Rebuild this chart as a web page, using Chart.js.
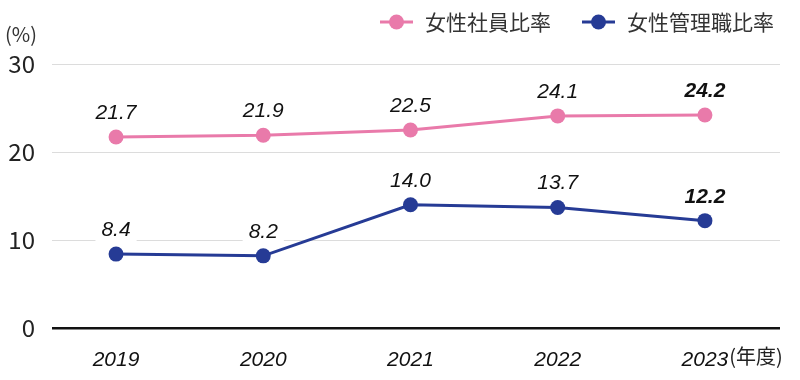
<!DOCTYPE html>
<html>
<head>
<meta charset="utf-8">
<script src="https://cdn.jsdelivr.net/npm/chart.js@4"></script>
<style>
html,body{margin:0;padding:0;background:#fff;}
#wrap{width:800px;height:380px;position:relative;}
</style>
</head>
<body>
<div id="wrap"><canvas id="c" width="800" height="380"></canvas></div>
<script>
const years = ['2019', '2020', '2021', '2022', '2023'];
const femaleEmployeeRatio = [21.7, 21.9, 22.5, 24.1, 24.2];
const femaleManagerRatio = [8.4, 8.2, 14.0, 13.7, 12.2];
const yTicks = [0, 10, 20, 30];
const seriesNames = ['女性社員比率', '女性管理職比率'];

const PINK = '#e97aaa';
const BLUE = '#263b95';
const NUM_FONT = '"Liberation Sans", Arial, sans-serif';
const JP_FONT = '"Noto Sans CJK JP", "Noto Sans", sans-serif';

function toPoints(arr){ return arr.map((v,i)=>({x:i, y:v})); }

const labelPlugin = {
  id: 'labels',
  afterDatasetsDraw(chart){
    const ctx = chart.ctx;
    chart.data.datasets.forEach((ds, di)=>{
      const meta = chart.getDatasetMeta(di);
      meta.data.forEach((pt, i)=>{
        const last = i === ds.data.length - 1;
        const txt = ds.data[i].y.toFixed(1);
        ctx.save();
        ctx.font = (last ? 'italic bold ' : 'italic ') + '21px ' + NUM_FONT;
        const w = ctx.measureText(txt).width;
        const by = pt.y - 18;
        ctx.fillStyle = '#fff';
        ctx.fillRect(pt.x - w/2 - 6, by - 17, w + 12, 25);
        ctx.fillStyle = '#111';
        ctx.textAlign = 'center';
        ctx.textBaseline = 'alphabetic';
        ctx.fillText(txt, pt.x, by);
        ctx.restore();
      });
    });
  },
  afterDraw(chart){
    const ctx = chart.ctx;
    ctx.save();
    // unit label
    ctx.font = '20px ' + JP_FONT;
    ctx.fillStyle = '#333';
    ctx.textBaseline = 'middle';
    ctx.textAlign = 'left';
    ctx.fillText('(%)', 5, 34);
    // year unit after last x tick
    const xs = chart.scales.x;
    const lx = xs.getPixelForValue(years.length - 1);
    ctx.font = 'italic 21px ' + NUM_FONT;
    const lw = ctx.measureText(years[years.length-1]).width;
    ctx.font = '20px ' + JP_FONT;
    ctx.fillStyle = '#222';
    ctx.fillText('(年度)', lx + lw/2 + 1, 356);
    // legend
    const items = [
      {x: 380, color: PINK, text: seriesNames[0]},
      {x: 582, color: BLUE, text: seriesNames[1]}
    ];
    items.forEach(it=>{
      const cy = 22;
      ctx.strokeStyle = it.color;
      ctx.lineWidth = 3;
      ctx.beginPath();
      ctx.moveTo(it.x, cy); ctx.lineTo(it.x + 33, cy);
      ctx.stroke();
      ctx.fillStyle = it.color;
      ctx.beginPath();
      ctx.arc(it.x + 16.5, cy, 7.5, 0, Math.PI*2);
      ctx.fill();
      ctx.fillStyle = '#333';
      ctx.font = '21px ' + JP_FONT;
      ctx.textBaseline = 'middle';
      ctx.fillText(it.text, it.x + 45, cy);
    });
    ctx.restore();
  }
};

new Chart(document.getElementById('c'), {
  type: 'line',
  data: {
    datasets: [
      {label: seriesNames[0], data: toPoints(femaleEmployeeRatio), borderColor: PINK, backgroundColor: PINK,
       borderWidth: 3, pointRadius: 7.5, pointHoverRadius: 7.5, pointBorderWidth: 0, tension: 0},
      {label: seriesNames[1], data: toPoints(femaleManagerRatio), borderColor: BLUE, backgroundColor: BLUE,
       borderWidth: 3, pointRadius: 7.5, pointHoverRadius: 7.5, pointBorderWidth: 0, tension: 0}
    ]
  },
  options: {
    responsive: false,
    animation: false,
    events: [],
    layout: {padding: {top: 64, right: 20, bottom: 0, left: 0}},
    plugins: {legend: {display: false}, tooltip: {enabled: false}},
    scales: {
      x: {
        type: 'linear',
        min: -0.435, max: 4.51,
        grid: {display: false},
        border: {display: false},
        afterBuildTicks(axis){ axis.ticks = years.map((_, i)=>({value: i})); },
        afterFit(axis){ axis.height = 52; },
        ticks: {
          padding: 12,
          color: '#111',
          font: {family: NUM_FONT, size: 21, style: 'italic'},
          callback: (v)=> years[v]
        }
      },
      y: {
        min: 0, max: 30,
        afterBuildTicks(axis){ axis.ticks = yTicks.map(v=>({value: v})); },
        afterFit(axis){ axis.width = 52; },
        border: {display: false},
        grid: {
          drawTicks: false,
          color: (c)=> c.tick && c.tick.value === 0 ? '#111' : '#dcdcdc',
          lineWidth: (c)=> c.tick && c.tick.value === 0 ? 2.5 : 1
        },
        ticks: {
          padding: 17,
          color: '#222',
          font: {family: JP_FONT, size: 24}
        }
      }
    }
  },
  plugins: [labelPlugin]
});
</script>
</body>
</html>
